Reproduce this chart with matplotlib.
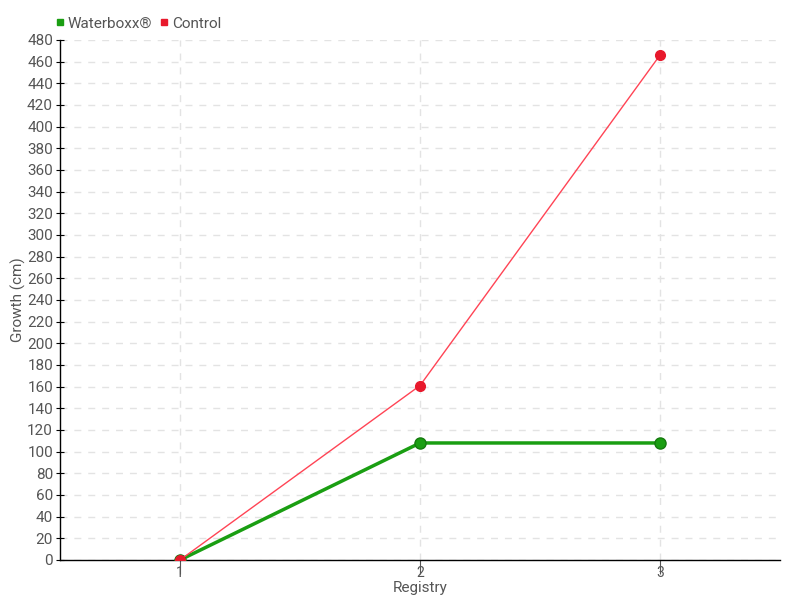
import matplotlib.pyplot as plt
from matplotlib.lines import Line2D

plt.rcParams["font.family"] = ["Roboto", "DejaVu Sans"]

# Data
registry = [1, 2, 3]
waterboxx = [0, 108, 108]
control = [0, 161, 466]

green = "#1a9e12"
red = "#e8192c"
text_color = "#555555"

fig = plt.figure(figsize=(8, 6), dpi=100)
ax = fig.add_axes([0.075, 0.0667, 0.9, 0.8667])

ax.plot(registry, waterboxx, color=green, linewidth=2.5, marker="o", markersize=8,
        markerfacecolor=green, markeredgecolor="#157a0e", zorder=3)
ax.plot(registry, control, color="#ff4455", linewidth=1, marker="o", markersize=7,
        markerfacecolor=red, markeredgecolor=red, zorder=4)

ax.set_xlim(0.5, 3.5)
ax.set_ylim(0, 480)
ax.set_xticks(registry)
ax.set_yticks(range(0, 481, 20))

ax.grid(True, color="#e3e3e3", linestyle=(0, (5, 5)), linewidth=1)
ax.set_axisbelow(True)
for side in ["top", "right"]:
    ax.spines[side].set_visible(False)
for side in ["left", "bottom"]:
    ax.spines[side].set_color("black")
    ax.spines[side].set_linewidth(1)

ax.tick_params(axis="y", direction="inout", length=6, colors="black",
               labelcolor=text_color, labelsize=11, pad=2)
ax.tick_params(axis="x", direction="out", length=10, colors="#555555",
               labelcolor=text_color, labelsize=10, pad=-6)

ax.set_xlabel("Registry", color=text_color, fontsize=11)
ax.set_ylabel("Growth (cm)", color=text_color, fontsize=11)
ax.xaxis.set_label_coords(0.5, -0.04)
ax.yaxis.set_label_coords(-0.047, 0.5)

handles = [
    Line2D([], [], linestyle="none", marker="s", markersize=5, color=green),
    Line2D([], [], linestyle="none", marker="s", markersize=5, color=red),
]
fig.legend(handles, ["Waterboxx®", "Control"], loc="upper left",
           bbox_to_anchor=(0.05, 0.995), ncol=2, frameon=False, fontsize=11,
           handletextpad=0.1, columnspacing=0.4, handlelength=0.8,
           labelcolor=text_color)

fig.savefig("out.png", dpi=100)
